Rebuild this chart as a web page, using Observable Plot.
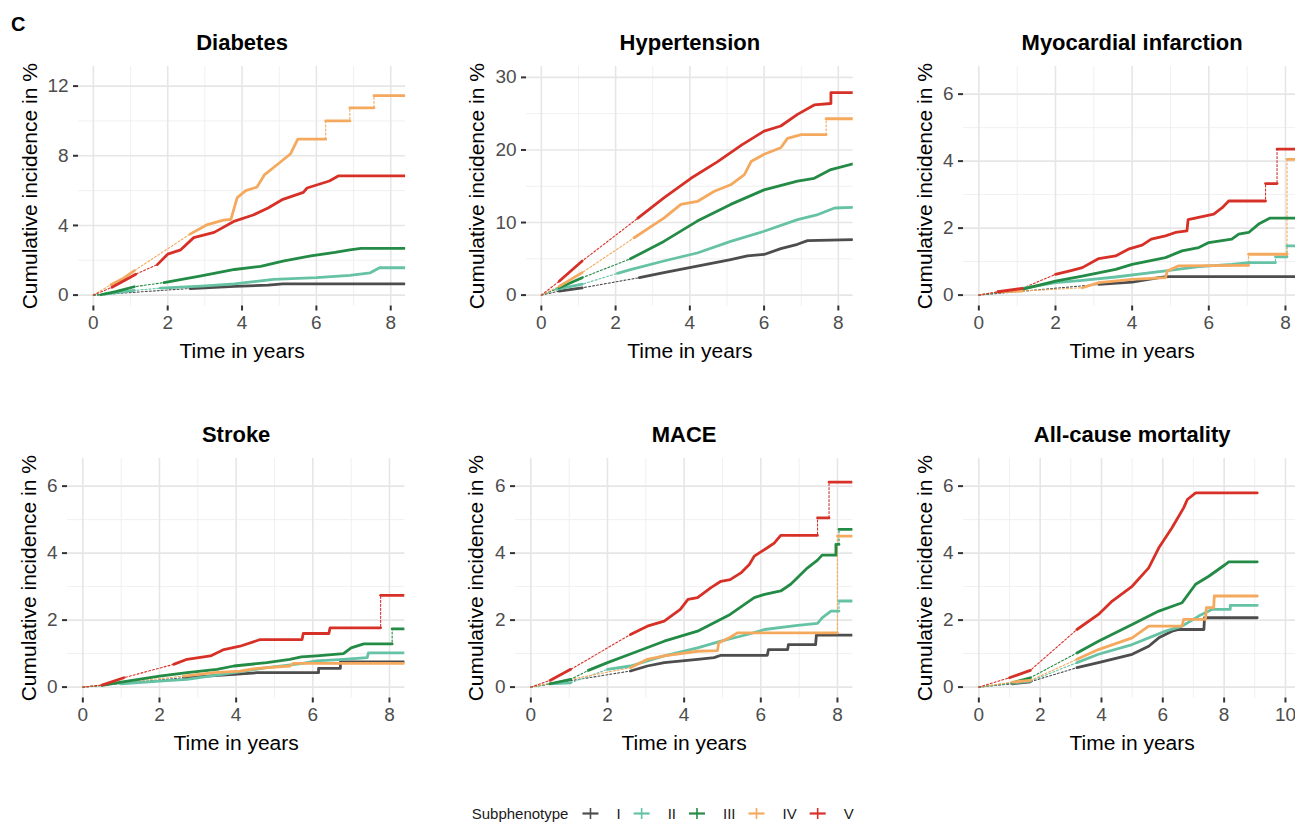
<!DOCTYPE html>
<html><head><meta charset="utf-8">
<script src="https://cdn.jsdelivr.net/npm/d3@7"></script>
<script src="https://cdn.jsdelivr.net/npm/@observablehq/plot@0.6"></script>
<style>
html,body{margin:0;padding:0;background:#fff;}
body{width:1295px;height:831px;overflow:hidden;font-family:"Liberation Sans",Arial,sans-serif;}
#root{position:relative;width:1295px;height:831px;overflow:hidden;}
.panel{position:absolute;}
.panel svg{max-width:none !important;display:block;}
#tag{position:absolute;left:11px;top:13px;font-size:20px;font-weight:bold;color:#000;}
</style></head>
<body><div id="root"><div id="tag">C</div></div>
<script>
// ---- categories / legend ----
const subphenotypes = ["I","II","III","IV","V"];
const colors = ["#4D4D4D","#66C2A5","#238B45","#F4A95E","#D73027"];
const yTitle = "Cumulative incidence in %";
const xTitle = "Time in years";

// ---- series: each is a list of observed segments of [time, cumulative incidence %] ----
// Diabetes
const diabetes_I   = [[[2.6,0.38],[3.8,0.5],[4.7,0.57],[5.1,0.65],[8.4,0.65]]];
const diabetes_II  = [[[0.3,0.05],[1.1,0.27]],[[1.8,0.4],[2.9,0.52],[3.8,0.65],[4.85,0.9],[6.0,1.0],[6.9,1.13],[7.45,1.28],[7.7,1.57],[8.4,1.57]]];
const diabetes_III = [[[0.2,0.02],[0.6,0.2],[1.1,0.48]],[[1.9,0.72],[2.9,1.1],[3.8,1.47],[4.5,1.65],[5.1,1.95],[5.85,2.25],[6.5,2.45],[6.9,2.6],[7.2,2.68],[8.4,2.68]]];
const diabetes_IV  = [[[0.47,0.6],[0.8,0.95],[1.1,1.4]],[[2.6,3.5],[3.07,4.05],[3.5,4.3],[3.7,4.35],[3.87,5.6],[4.1,6.0],[4.4,6.2],[4.6,6.9],[4.95,7.5],[5.3,8.1],[5.5,8.95],[6.25,8.95]],[[6.25,10.0],[6.9,10.0]],[[6.9,10.75],[7.55,10.75]],[[7.55,11.45],[8.4,11.45]]];
const diabetes_V   = [[[0.5,0.45],[0.8,0.8],[1.14,1.2]],[[1.72,1.75],[2.0,2.35],[2.35,2.6],[2.7,3.3],[3.25,3.6],[3.8,4.25],[4.3,4.6],[4.7,5.0],[5.1,5.5],[5.65,5.9],[5.75,6.15],[6.35,6.55],[6.6,6.85],[8.4,6.85]]];
// Hypertension
const hypertension_I   = [[[0.48,0.55],[1.1,1.0]],[[2.64,2.4],[3.3,3.1],[4.2,4.0],[5.1,4.9],[5.55,5.4],[6.0,5.6],[6.45,6.4],[6.9,7.0],[7.17,7.5],[8.4,7.65]]];
const hypertension_II  = [[[0.4,0.8],[1.1,1.5]],[[2.05,3.0],[2.4,3.5],[3.3,4.7],[4.2,5.8],[5.1,7.4],[6.0,8.8],[6.9,10.4],[7.45,11.1],[7.9,12.0],[8.4,12.1]]];
const hypertension_III = [[[0.48,1.0],[1.1,2.4]],[[2.4,5.0],[3.3,7.4],[4.2,10.2],[5.1,12.5],[6.0,14.5],[6.9,15.7],[7.35,16.1],[7.8,17.3],[8.4,18.1]]];
const hypertension_IV  = [[[0.48,1.2],[1.1,3.1]],[[2.5,7.9],[3.3,10.6],[3.76,12.5],[4.2,12.9],[4.66,14.3],[5.1,15.2],[5.47,16.6],[5.65,18.4],[6.0,19.4],[6.45,20.3],[6.63,21.6],[7.0,22.1],[7.67,22.1]],[[7.67,24.3],[8.4,24.3]]];
const hypertension_V   = [[[0.48,1.9],[1.1,4.7]],[[2.6,10.6],[3.3,13.4],[4.03,16.1],[4.75,18.4],[5.4,20.7],[6.0,22.6],[6.45,23.3],[6.9,24.9],[7.35,26.2],[7.8,26.4],[7.8,27.9],[8.4,27.9]]];
// Myocardial infarction
const mi_I   = [[[3.13,0.32],[4.0,0.39],[4.7,0.52],[4.9,0.55],[8.4,0.55]]];
const mi_II  = [[[1.13,0.2],[2.0,0.37],[2.7,0.44],[3.57,0.54],[4.87,0.72],[5.74,0.85],[6.6,0.92],[7.04,0.97],[7.74,0.97]],[[7.74,1.14],[8.04,1.14]],[[8.04,1.47],[8.4,1.47]]];
const mi_III = [[[1.13,0.17],[2.0,0.42],[2.7,0.57],[3.57,0.77],[4.0,0.92],[4.87,1.12],[5.3,1.32],[5.74,1.42],[6.0,1.57],[6.6,1.67],[6.78,1.82],[7.04,1.87],[7.3,2.12],[7.6,2.3],[8.4,2.3]]];
const mi_IV  = [[[0.5,0.1],[1.13,0.12]],[[2.7,0.22],[3.13,0.37],[4.0,0.47],[4.87,0.52],[4.92,0.72],[5.2,0.87],[7.04,0.89]],[[7.04,1.22],[8.04,1.22]],[[8.04,4.05],[8.4,4.05]]];
const mi_V   = [[[0.5,0.1],[1.13,0.2]],[[2.0,0.62],[2.43,0.74],[2.7,0.82],[3.13,1.09],[3.57,1.17],[3.9,1.37],[4.26,1.49],[4.5,1.67],[4.87,1.77],[5.13,1.87],[5.43,1.92],[5.46,2.25],[6.13,2.42],[6.35,2.61],[6.52,2.81],[7.48,2.81]],[[7.48,3.33],[7.78,3.33]],[[7.78,4.36],[8.4,4.36]]];
// Stroke
const stroke_I   = [[[2.63,0.28],[3.94,0.38],[4.55,0.43],[6.15,0.43],[6.15,0.56],[6.72,0.56],[6.72,0.75],[8.4,0.75]]];
const stroke_II  = [[[1.0,0.1],[2.0,0.18],[2.72,0.23],[3.94,0.43],[4.8,0.58],[5.7,0.7],[6.1,0.78],[6.8,0.83],[7.42,0.88],[7.45,1.02],[8.4,1.02]]];
const stroke_III = [[[0.5,0.05],[1.0,0.15],[2.0,0.33],[2.72,0.43],[3.5,0.53],[3.94,0.63],[4.8,0.73],[5.4,0.83],[5.7,0.9],[6.1,0.93],[6.8,1.0],[7.0,1.17],[7.33,1.29],[8.07,1.29]],[[8.07,1.74],[8.4,1.74]]];
const stroke_IV  = [[[2.63,0.33],[3.42,0.43],[4.1,0.48],[4.55,0.56],[5.4,0.63],[5.5,0.71],[8.4,0.71]]];
const stroke_V   = [[[0.5,0.06],[1.07,0.28]],[[2.37,0.68],[2.72,0.83],[3.33,0.93],[3.68,1.12],[4.1,1.22],[4.63,1.42],[5.72,1.42],[5.75,1.6],[6.42,1.6],[6.45,1.77],[7.77,1.77]],[[7.77,2.74],[8.4,2.74]]];
// MACE
const mace_I   = [[[2.6,0.48],[3.04,0.63],[3.48,0.73],[4.35,0.83],[4.78,0.88],[4.96,0.95],[6.17,0.95],[6.2,1.12],[6.7,1.12],[6.72,1.27],[7.43,1.27],[7.45,1.55],[8.4,1.55]]];
const mace_II  = [[[0.5,0.1],[1.04,0.13]],[[2.0,0.53],[2.6,0.63],[3.48,0.93],[4.35,1.17],[4.96,1.37],[5.65,1.57],[6.1,1.72],[6.96,1.84],[7.48,1.9],[7.6,2.07],[7.83,2.27],[8.04,2.27]],[[8.04,2.57],[8.4,2.57]]];
const mace_III = [[[0.5,0.1],[1.04,0.23]],[[1.5,0.5],[2.0,0.73],[2.6,0.99],[3.48,1.37],[4.35,1.67],[5.2,2.17],[5.83,2.67],[6.1,2.77],[6.52,2.87],[6.78,3.07],[7.22,3.56],[7.48,3.79],[7.6,3.94],[7.96,3.94],[7.96,4.26],[8.04,4.26]],[[8.04,4.71],[8.4,4.71]]];
const mace_IV  = [[[2.6,0.58],[3.04,0.83],[3.48,0.93],[4.35,1.07],[4.87,1.09],[4.9,1.32],[5.2,1.49],[5.39,1.62],[8.0,1.62]],[[8.0,4.51],[8.4,4.51]]];
const mace_V   = [[[0.5,0.2],[1.04,0.53]],[[2.6,1.57],[3.04,1.82],[3.48,1.97],[3.9,2.32],[4.1,2.62],[4.35,2.67],[4.7,2.97],[4.96,3.16],[5.2,3.21],[5.48,3.41],[5.7,3.66],[5.83,3.91],[6.17,4.16],[6.35,4.3],[6.52,4.53],[7.48,4.53]],[[7.48,5.05],[7.78,5.05]],[[7.78,6.12],[8.4,6.12]]];
// All-cause mortality
const mort_I   = [[[1.1,0.1],[1.68,0.16]],[[3.2,0.58],[3.9,0.73],[5.0,0.98],[5.54,1.22],[5.87,1.47],[6.3,1.67],[6.52,1.72],[7.34,1.72],[7.36,2.07],[9.08,2.07]]];
const mort_II  = [[[1.1,0.12],[1.68,0.18]],[[3.2,0.73],[3.9,0.98],[5.0,1.27],[6.09,1.67],[6.63,1.82],[7.17,2.12],[7.6,2.32],[8.2,2.32],[8.2,2.44],[9.08,2.44]]];
const mort_III = [[[1.1,0.13],[1.68,0.28]],[[3.2,1.02],[3.9,1.37],[5.0,1.87],[5.87,2.27],[6.63,2.52],[7.07,3.07],[7.5,3.31],[8.04,3.66],[8.15,3.74],[9.08,3.74]]];
const mort_IV  = [[[1.1,0.15],[1.68,0.2]],[[3.2,0.83],[3.9,1.12],[5.0,1.47],[5.54,1.82],[6.63,1.82],[6.68,2.02],[7.39,2.02],[7.42,2.37],[7.66,2.37],[7.68,2.72],[9.08,2.72]]];
const mort_V   = [[[1.0,0.28],[1.68,0.5]],[[3.2,1.72],[3.9,2.17],[4.35,2.57],[5.0,3.01],[5.54,3.56],[5.87,4.16],[6.3,4.76],[6.68,5.35],[6.8,5.6],[7.07,5.8],[9.08,5.8]]];

// ---- tick values ----
const ticks8 = [0,2,4,6,8], minor8 = [1,3,5,7];
const ticks10 = [0,2,4,6,8,10], minor10 = [1,3,5,7,9];
const ticks6 = [0,2,4,6], minor6 = [1,3,5];

// ---- layout (plot frame rectangles in page px) ----
const panels = [
  {title:"Diabetes", series:[diabetes_I,diabetes_II,diabetes_III,diabetes_IV,diabetes_V],
   xDomain:[-0.4,8.4], yDomain:[-0.625,13.125], xTicks:ticks8, xMinor:minor8, yTicks:[0,4,8,12], yMinor:[2,6,10],
   left:77.8, top:65.5, w:327.1, h:239.5, ytdx:-48},
  {title:"Hypertension", series:[hypertension_I,hypertension_II,hypertension_III,hypertension_IV,hypertension_V],
   xDomain:[-0.4,8.4], yDomain:[-1.5,31.5], xTicks:ticks8, xMinor:minor8, yTicks:[0,10,20,30], yMinor:[5,15,25],
   left:525.5, top:65.5, w:326.7, h:239.5, ytdx:-49},
  {title:"Myocardial infarction", series:[mi_I,mi_II,mi_III,mi_IV,mi_V],
   xDomain:[-0.4,8.4], yDomain:[-0.325,6.825], xTicks:ticks8, xMinor:minor8, yTicks:ticks6, yMinor:minor6,
   left:963, top:65.5, w:337.3, h:239.5, ytdx:-38},
  {title:"Stroke", series:[stroke_I,stroke_II,stroke_III,stroke_IV,stroke_V],
   xDomain:[-0.4,8.4], yDomain:[-0.325,6.825], xTicks:ticks8, xMinor:minor8, yTicks:ticks6, yMinor:minor6,
   left:67, top:457.5, w:337.3, h:239.5, ytdx:-38.5},
  {title:"MACE", series:[mace_I,mace_II,mace_III,mace_IV,mace_V],
   xDomain:[-0.4,8.4], yDomain:[-0.325,6.825], xTicks:ticks8, xMinor:minor8, yTicks:ticks6, yMinor:minor6,
   left:514.7, top:457.5, w:337.3, h:239.5, ytdx:-39.5},
  {title:"All-cause mortality", series:[mort_I,mort_II,mort_III,mort_IV,mort_V],
   xDomain:[-0.5,10.5], yDomain:[-0.325,6.825], xTicks:ticks10, xMinor:minor10, yTicks:ticks6, yMinor:minor6,
   left:963, top:457.5, w:337.3, h:239.5, ytdx:-38}
];

const root = document.getElementById("root");
const FONT = "'Liberation Sans', Arial, sans-serif";

function panelPlot(p) {
  const ml = 72, mr = 14, mt = 52, mb = 64;
  const solid = [], dotted = [];
  p.series.forEach((segs, i) => {
    const s = subphenotypes[i];
    dotted.push({t: 0, y: 0, s, k: s});
    segs.forEach((seg, j) => seg.forEach(([t, y]) => {
      dotted.push({t, y, s, k: s});
      solid.push({t, y, s, k: s + "-" + j});
    }));
  });
  const W = p.w + ml + mr, H = p.h + mt + mb;
  const svg = Plot.plot({
    width: W, height: H,
    marginLeft: ml, marginRight: mr, marginTop: mt, marginBottom: mb,
    style: {fontFamily: FONT, fontSize: "19px", background: "transparent", overflow: "visible", color: "#000", maxWidth: "none"},
    x: {domain: p.xDomain},
    y: {domain: p.yDomain},
    color: {domain: subphenotypes, range: colors},
    marks: [
      Plot.gridX(p.xMinor, {stroke: "#eeeeee", strokeOpacity: 1, strokeWidth: 0.9}),
      Plot.gridY(p.yMinor, {stroke: "#eeeeee", strokeOpacity: 1, strokeWidth: 0.9}),
      Plot.gridX(p.xTicks, {stroke: "#e6e6e6", strokeOpacity: 1, strokeWidth: 1.6}),
      Plot.gridY(p.yTicks, {stroke: "#e6e6e6", strokeOpacity: 1, strokeWidth: 1.6}),
      Plot.line(dotted, {x: "t", y: "y", z: "k", stroke: "s", strokeWidth: 1.1, strokeDasharray: "2,2", clip: true}),
      Plot.line(solid, {x: "t", y: "y", z: "k", stroke: "s", strokeWidth: 2.8, clip: true}),
      Plot.axisX(p.xTicks, {tickSize: 5, tickPadding: 5, stroke: "#333", strokeWidth: 2, fill: "#4d4d4d", label: null}),
      Plot.axisY(p.yTicks, {tickSize: 5, tickPadding: 5, stroke: "#333", strokeWidth: 2, fill: "#4d4d4d", label: null}),
      Plot.text([p.title], {text: d => d, frameAnchor: "top", dy: -23.5, fontSize: 22, fontWeight: "bold", lineAnchor: "middle", fill: "#000"}),
      Plot.text([xTitle], {text: d => d, frameAnchor: "bottom", dy: 45, fontSize: 21, lineAnchor: "middle", fill: "#000"}),
      Plot.text([yTitle], {text: d => d, frameAnchor: "left", dx: p.ytdx, rotate: -90, fontSize: 21, textAnchor: "middle", lineAnchor: "middle", fill: "#000"})
    ]
  });
  const div = document.createElement("div");
  div.className = "panel";
  div.style.left = (p.left - ml) + "px";
  div.style.top = (p.top - mt) + "px";
  div.style.width = W + "px";
  div.style.height = H + "px";
  div.appendChild(svg);
  root.appendChild(div);
}
panels.forEach(panelPlot);

// ---- legend ----
(function legend() {
  const svg = d3.create("svg").attr("width", 1295).attr("height", 40)
    .style("position", "absolute").style("left", "0px").style("top", "794px")
    .style("font-family", FONT).style("font-size", "15px");
  const cy = 19.5;
  let x = 471.7;
  const t = svg.append("text").attr("x", x).attr("y", cy).attr("dy", "0.35em").attr("fill", "#1a1a1a").text("Subphenotype");
  root.appendChild(svg.node());
  x += t.node().getComputedTextLength() + 14;
  subphenotypes.forEach((s, i) => {
    svg.append("line").attr("x1", x).attr("x2", x + 16).attr("y1", cy).attr("y2", cy).attr("stroke", colors[i]).attr("stroke-width", 2.2);
    svg.append("line").attr("x1", x + 8).attr("x2", x + 8).attr("y1", cy - 5.5).attr("y2", cy + 5.5).attr("stroke", colors[i]).attr("stroke-width", 1.6);
    const lx = x + 34;
    const lt = svg.append("text").attr("x", lx).attr("y", cy).attr("dy", "0.35em").attr("fill", "#1a1a1a").text(s);
    x = lx + lt.node().getComputedTextLength() + 13;
  });
})();
</script>
</body></html>
